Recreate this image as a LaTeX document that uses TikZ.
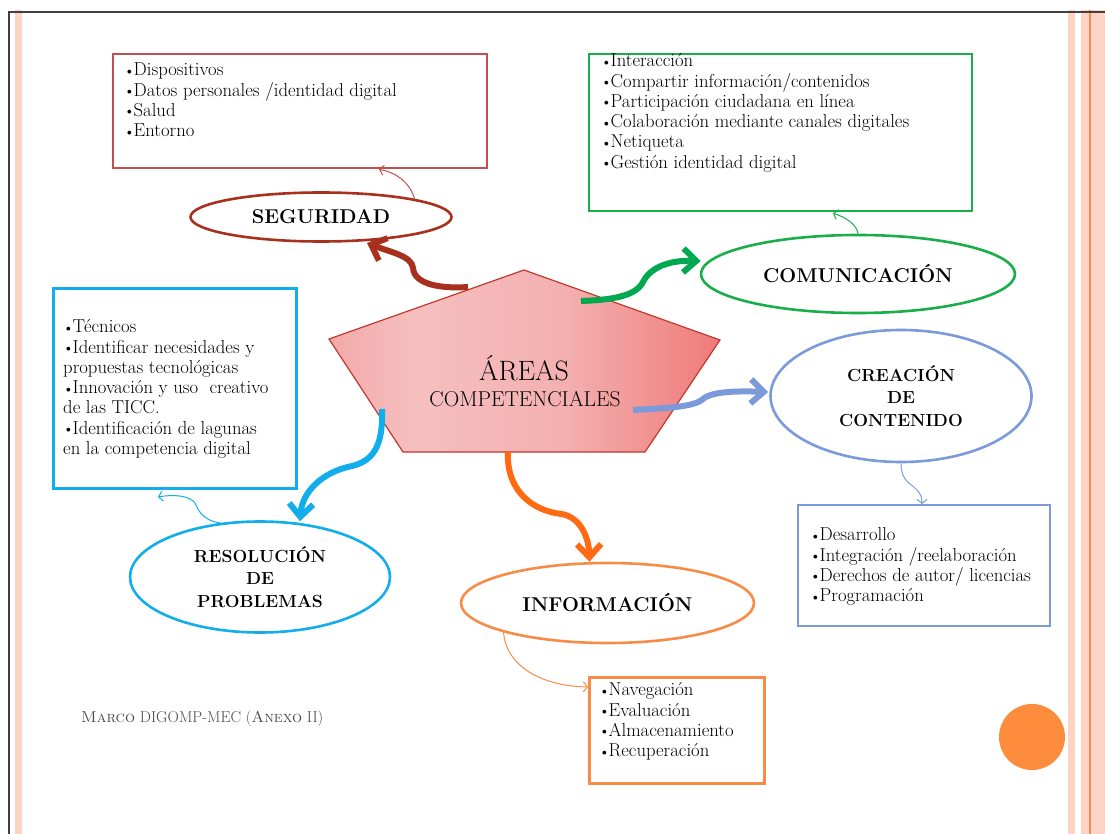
\documentclass[tikz,border=0pt]{standalone}
\usetikzlibrary{shapes.geometric,arrows.meta}
\definecolor{segcol}{HTML}{C0504D}
\definecolor{segdark}{HTML}{A8301F}
\definecolor{comcol}{HTML}{1AAE4B}
\definecolor{comarrow}{HTML}{00A94F}
\definecolor{rescol}{HTML}{12AEEC}
\definecolor{crecol}{HTML}{7B9AD9}
\definecolor{infocol}{HTML}{F88C46}
\definecolor{infoarrow}{HTML}{FF6A13}
\definecolor{dotcol}{HTML}{FD8C3C}
\definecolor{stripecol}{HTML}{FDD3C6}
\definecolor{stripeline}{HTML}{F28A58}
\definecolor{pentline}{HTML}{C0392B}
\definecolor{marcocol}{HTML}{4A4A4A}
\pgfdeclarehorizontalshading{pentshade}{100bp}{rgb(0bp)=(0.95,0.66,0.66); rgb(25bp)=(0.95,0.66,0.66); rgb(36bp)=(0.965,0.75,0.75); rgb(55bp)=(0.955,0.69,0.69); rgb(75bp)=(0.94,0.48,0.48); rgb(100bp)=(0.94,0.48,0.48)}
\newcommand{\mybul}{\strut\raisebox{0.6pt}{\fontsize{14}{14}\selectfont\textbullet}\kern-1.2pt}
\begin{document}
\begin{tikzpicture}[x=1pt,y=-1pt,
  rectbox/.style={draw=#1, rectangle, inner sep=0pt, anchor=north west},
  itemtxt/.style={font=\fontsize{18.7}{20.3}\selectfont, align=left, inner sep=0pt, anchor=north west},
  ellst/.style={ellipse, draw=#1, line width=2.6pt, inner sep=0pt, align=center, font=\bfseries\fontsize{20}{22.5}\selectfont},
  bigarrow/.style={line width=6pt, -{Straight Barb[length=13pt,width=24pt]}},
  smallarrow/.style={line width=1pt, -{Straight Barb[length=4pt,width=10pt]}},
  stripe/.style={fill=stripecol, draw=none}
]
\useasboundingbox (0,0) rectangle (1105,834);
\fill[white] (0,0) rectangle (1105,834);
% frame
\fill[stripe] (15,10) rectangle (22,834);
\fill[stripe] (1068,10) rectangle (1075,834);
\fill[stripe] (1081,10) rectangle (1105,834);
\draw[stripeline, line width=1.5pt] (1090,10) -- (1090,834);
\draw[black!75, line width=1.5pt] (9,834) -- (9,12) -- (1105,12);

% boxes
\node[rectbox=segcol, line width=2.4pt, minimum width=374pt, minimum height=114pt] (segbox) at (112,53) {};
\node[itemtxt] (segtxt) at (124,61.3) {\mybul Dispositivos\\\mybul Datos personales /identidad digital\\\mybul Salud\\\mybul Entorno};

\node[rectbox=comcol, line width=2.4pt, minimum width=383pt, minimum height=157pt] (combox) at (588,53) {};
\node[itemtxt] (comtxt) at (601,52.3) {\mybul Interacción\\\mybul Compartir información/contenidos\\\mybul Participación ciudadana en línea\\\mybul Colaboración mediante canales digitales\\\mybul Netiqueta\\\mybul Gestión identidad digital};

\node[rectbox=rescol, line width=3pt, minimum width=243pt, minimum height=200pt] (rbox) at (52,287) {};
\node[itemtxt] (restxt) at (63,318.3) {\mybul Técnicos\\\mybul Identificar necesidades y\\\strut propuestas tecnológicas\\\mybul Innovación y uso\ \ creativo\\\strut de las TICC.\\\mybul Identificación de lagunas\\\strut en la competencia digital};

\node[rectbox=crecol, line width=2.4pt, minimum width=252pt, minimum height=121pt] (crebox) at (797,504) {};
\node[itemtxt] (cretxt) at (810,526.3) {\mybul Desarrollo\\\mybul Integración /reelaboración\\\mybul Derechos de autor/ licencias\\\mybul Programación};

\node[rectbox=infocol, line width=3pt, minimum width=175pt, minimum height=106pt] (ibox) at (588,676) {};
\node[itemtxt] (infotxt) at (599,681.3) {\mybul Navegación\\\mybul Evaluación\\\mybul Almacenamiento\\\mybul Recuperación};

% pentagon
\coordinate (pt) at (524,270);
\coordinate (pr) at (720,340);
\coordinate (pbr) at (645,452);
\coordinate (pbl) at (403,452);
\coordinate (pl) at (329,339);
\shade[shading=pentshade] (pt) -- (pr) -- (pbr) -- (pbl) -- (pl) -- cycle;
\draw[pentline, line width=1.2pt, line join=miter] (pt) -- (pr) -- (pbr) -- (pbl) -- (pl) -- cycle;
\node[anchor=base, inner sep=0pt, font=\fontsize{28}{30}\selectfont] (areas) at (524,380.7) {ÁREAS};
\node[anchor=base, inner sep=0pt, font=\fontsize{21.5}{24}\selectfont] (compet) at (525,406.7) {COMPETENCIALES};

% ellipses
\node[ellst=segdark, minimum width=261pt, minimum height=49pt] (seg) at (321,217) {SEGURIDAD};
\node[ellst=comcol, minimum width=314pt, minimum height=78pt] (com) at (858,274) {COMUNICACIÓN};
\node[ellst=crecol, minimum width=261pt, minimum height=132pt, font=\bfseries\fontsize{17.5}{22.5}\selectfont] (cre) at (901,396) {CREACIÓN\\DE\\CONTENIDO};
\node[ellst=rescol, minimum width=260pt, minimum height=111pt, font=\bfseries\fontsize{17.5}{22.5}\selectfont] (res) at (260,577) {RESOLUCIÓN\\DE\\PROBLEMAS};
\node[ellst=infocol, minimum width=293pt, minimum height=80pt] (info) at (607.5,603) {INFORMACIÓN};

% thick arrows
\coordinate (rs) at (468,287);
\coordinate (gs) at (581,301);
\coordinate (bs) at (633,410);
\coordinate (cs) at (382,409);
\coordinate (os) at (508,452);
\draw[bigarrow, segdark] (rs) .. controls (440,289) and (414,284) .. (413,268) .. controls (412,256) and (390,252) .. ([shift={(46,26)}]seg.center);
\draw[bigarrow, comarrow] (gs) .. controls (612,300) and (636,296) .. (643,282) .. controls (650,268) and (668,260) .. ([shift={(1,-13)}]com.west);
\draw[bigarrow, crecol] (bs) .. controls (668,408) and (694,407) .. (703,399) .. controls (712,391) and (740,391) .. ([shift={(-1,-4)}]cre.west);
\draw[bigarrow, rescol] (cs) .. controls (383,440) and (377,460) .. (352,466) .. controls (322,472) and (302,492) .. ([shift={(40,1)}]res.north);
\draw[bigarrow, infoarrow] (os) .. controls (506,490) and (532,511) .. (562,514) .. controls (582,518) and (589,540) .. ([shift={(-18,0)}]info.north);

% thin arrows
\draw[smallarrow, segcol] (seg.11) .. controls (410,182) and (395,172) .. ([shift={(267,0)}]segbox.south west);
\draw[smallarrow, comcol] (com.north) .. controls (857,225) and (846,217) .. ([shift={(245,1)}]combox.south west);
\draw[smallarrow, crecol] (cre.south) .. controls (901,482) and (912,484) .. (917,490) .. controls (922,496) and (922,499) .. ([shift={(125,0)}]crebox.north west);
\draw[smallarrow, rescol] ([shift={(-39,3)}]res.north) .. controls (200,520) and (198,508) .. (195,503) .. controls (190,496) and (175,494) .. ([shift={(106,7)}]rbox.south west);
\draw[smallarrow, infocol] ([shift={(-104,28)}]info.center) .. controls (505,665) and (540,686) .. ([shift={(0,11)}]ibox.north west);

% footer
\node[anchor=base west, inner sep=0pt, text=marcocol, font=\fontsize{15.8}{18}\selectfont] (marco) at (81,722) {\textsc{Marco} DIGOMP-MEC (\textsc{Anexo} II)};
\node[circle, fill=dotcol, minimum size=66pt, inner sep=0pt] (dot) at (1032,737) {};
\end{tikzpicture}
\end{document}
